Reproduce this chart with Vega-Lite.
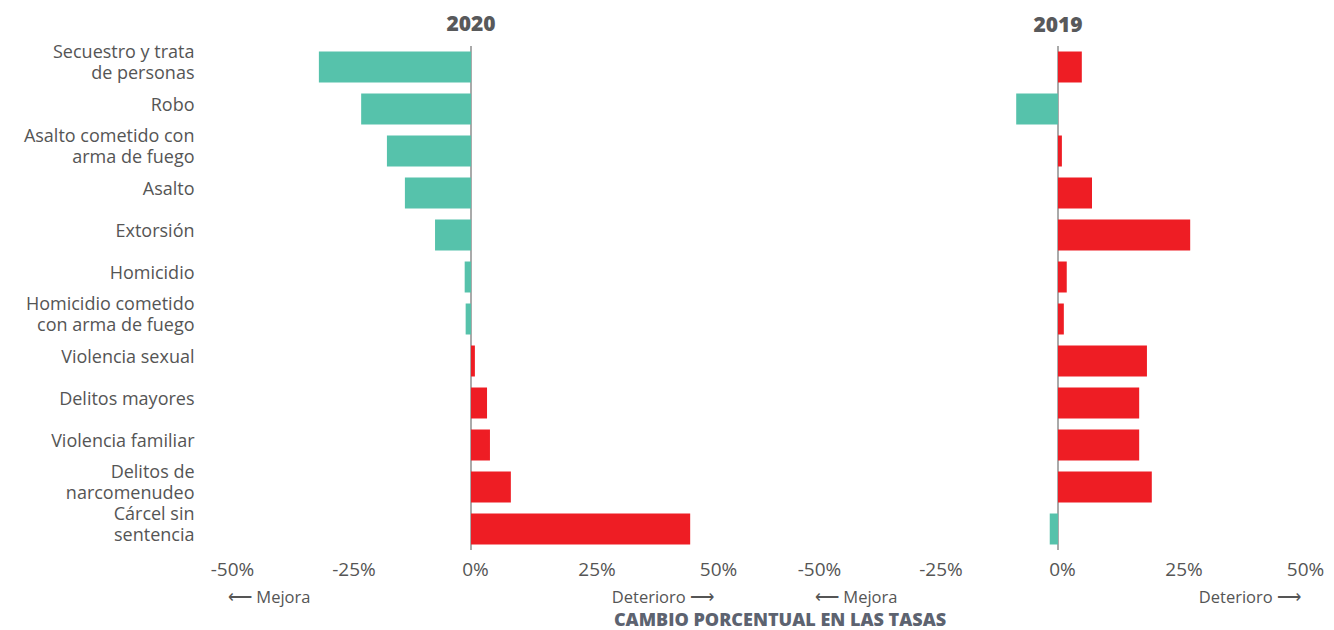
{
  "$schema": "https://vega.github.io/schema/vega-lite/v6.json",
  "padding": {"left": 23, "top": 13, "right": 10, "bottom": 2},
  "config": {
    "view": {"stroke": null},
    "font": "Open Sans"
  },
  "datasets": {
    "d": [
      {"year": 2020, "crime": "Secuestro y trata|de personas", "value": -31.3},
      {"year": 2020, "crime": "Robo", "value": -22.6},
      {"year": 2020, "crime": "Asalto cometido con|arma de fuego", "value": -17.3},
      {"year": 2020, "crime": "Asalto", "value": -13.6},
      {"year": 2020, "crime": "Extorsión", "value": -7.4},
      {"year": 2020, "crime": "Homicidio", "value": -1.3},
      {"year": 2020, "crime": "Homicidio cometido|con arma de fuego", "value": -1.1},
      {"year": 2020, "crime": "Violencia sexual", "value": 0.8},
      {"year": 2020, "crime": "Delitos mayores", "value": 3.3},
      {"year": 2020, "crime": "Violencia familiar", "value": 3.9},
      {"year": 2020, "crime": "Delitos de|narcomenudeo", "value": 8.2},
      {"year": 2020, "crime": "Cárcel sin|sentencia", "value": 45.1},
      {"year": 2019, "crime": "Secuestro y trata|de personas", "value": 4.9},
      {"year": 2019, "crime": "Robo", "value": -8.6},
      {"year": 2019, "crime": "Asalto cometido con|arma de fuego", "value": 0.8},
      {"year": 2019, "crime": "Asalto", "value": 7.0},
      {"year": 2019, "crime": "Extorsión", "value": 27.2},
      {"year": 2019, "crime": "Homicidio", "value": 1.8},
      {"year": 2019, "crime": "Homicidio cometido|con arma de fuego", "value": 1.2},
      {"year": 2019, "crime": "Violencia sexual", "value": 18.3},
      {"year": 2019, "crime": "Delitos mayores", "value": 16.7},
      {"year": 2019, "crime": "Violencia familiar", "value": 16.7},
      {"year": 2019, "crime": "Delitos de|narcomenudeo", "value": 19.3},
      {"year": 2019, "crime": "Cárcel sin|sentencia", "value": -1.7}
    ],
    "foot": [
      {"x": -50, "t": "⟵ Mejora", "side": "left"},
      {"x": 50, "t": "Deterioro ⟶", "side": "right"}
    ]
  },
  "title": {
    "text": "CAMBIO PORCENTUAL EN LAS TASAS",
    "orient": "bottom",
    "anchor": "middle",
    "frame": "group",
    "fontSize": 18,
    "fontWeight": 800,
    "color": "#5D6370",
    "offset": 4,
    "dx": 552
  },
  "columns": 2,
  "bounds": "flush",
  "spacing": {"row": 38, "column": 101},
  "concat": [
    {
      "width": 486,
      "height": 504,
      "data": {"name": "d"},
      "title": {"text": "2020", "fontSize": 21, "fontWeight": 800, "color": "#58595B", "offset": 9},
      "transform": [{"filter": "datum.year == 2020"}],
      "layer": [
        {
          "mark": {"type": "rule", "color": "#AAAAAA", "strokeWidth": 1.5},
          "encoding": {"x": {"datum": 0, "type": "quantitative", "scale": {"domain": [-50, 50]}}}
        },
        {
          "mark": {"type": "bar"},
          "encoding": {
            "y": {
              "field": "crime", "type": "nominal", "sort": null,
              "scale": {"paddingInner": 0.262, "paddingOuter": 0.131},
              "axis": {
                "title": null, "ticks": false, "domain": false,
                "labelExpr": "split(datum.value, '|')",
                "labelFontSize": 18, "labelColor": "#555555", "labelLineHeight": 21,
                "labelOffset": {"condition": {"test": "indexof(datum.value, '|') >= 0", "value": -14}, "value": -3},
                "labelPadding": 34, "labelLimit": 300
              }
            },
            "x": {
              "field": "value", "type": "quantitative",
              "scale": {"domain": [-50, 50]},
              "axis": {
                "values": [-50, -25, 0, 25, 50], "labelExpr": "datum.value + '%'",
                "title": null, "grid": false, "ticks": false, "domain": false,
                "labelFlush": false, "labelOffset": 4,
                "labelPadding": 10, "labelFontSize": 19, "labelColor": "#555555"
              }
            },
            "color": {"condition": {"test": "datum.value < 0", "value": "#56C2AB"}, "value": "#EE1D24"}
          }
        }
      ]
    },
    {
      "width": 486,
      "height": 504,
      "data": {"name": "d"},
      "title": {"text": "2019", "fontSize": 21, "fontWeight": 800, "color": "#58595B", "offset": 9},
      "transform": [{"filter": "datum.year == 2019"}],
      "layer": [
        {
          "mark": {"type": "rule", "color": "#AAAAAA", "strokeWidth": 1.5},
          "encoding": {"x": {"datum": 0, "type": "quantitative", "scale": {"domain": [-50, 50]}}}
        },
        {
          "mark": {"type": "bar"},
          "encoding": {
            "y": {
              "field": "crime", "type": "nominal", "sort": null,
              "scale": {"paddingInner": 0.262, "paddingOuter": 0.131},
              "axis": null
            },
            "x": {
              "field": "value", "type": "quantitative",
              "scale": {"domain": [-50, 50]},
              "axis": {
                "values": [-50, -25, 0, 25, 50], "labelExpr": "datum.value + '%'",
                "title": null, "grid": false, "ticks": false, "domain": false,
                "labelFlush": false, "labelOffset": 4,
                "labelPadding": 10, "labelFontSize": 19, "labelColor": "#555555"
              }
            },
            "color": {"condition": {"test": "datum.value < 0", "value": "#56C2AB"}, "value": "#EE1D24"}
          }
        }
      ]
    },
    {
      "width": 486,
      "height": 20,
      "data": {"name": "foot"},
      "layer": [
        {
          "transform": [{"filter": "datum.side == 'left'"}],
          "mark": {"type": "text", "align": "left", "baseline": "middle", "fontSize": 16.5, "color": "#555555"},
          "encoding": {
            "x": {"field": "x", "type": "quantitative", "scale": {"domain": [-50, 50]}, "axis": null},
            "text": {"field": "t"}
          }
        },
        {
          "transform": [{"filter": "datum.side == 'right'"}],
          "mark": {"type": "text", "align": "right", "baseline": "middle", "fontSize": 16.5, "color": "#555555"},
          "encoding": {
            "x": {"field": "x", "type": "quantitative", "scale": {"domain": [-50, 50]}, "axis": null},
            "text": {"field": "t"}
          }
        }
      ]
    },
    {
      "width": 486,
      "height": 20,
      "data": {"name": "foot"},
      "layer": [
        {
          "transform": [{"filter": "datum.side == 'left'"}],
          "mark": {"type": "text", "align": "left", "baseline": "middle", "fontSize": 16.5, "color": "#555555"},
          "encoding": {
            "x": {"field": "x", "type": "quantitative", "scale": {"domain": [-50, 50]}, "axis": null},
            "text": {"field": "t"}
          }
        },
        {
          "transform": [{"filter": "datum.side == 'right'"}],
          "mark": {"type": "text", "align": "right", "baseline": "middle", "fontSize": 16.5, "color": "#555555"},
          "encoding": {
            "x": {"field": "x", "type": "quantitative", "scale": {"domain": [-50, 50]}, "axis": null},
            "text": {"field": "t"}
          }
        }
      ]
    }
  ]
}
